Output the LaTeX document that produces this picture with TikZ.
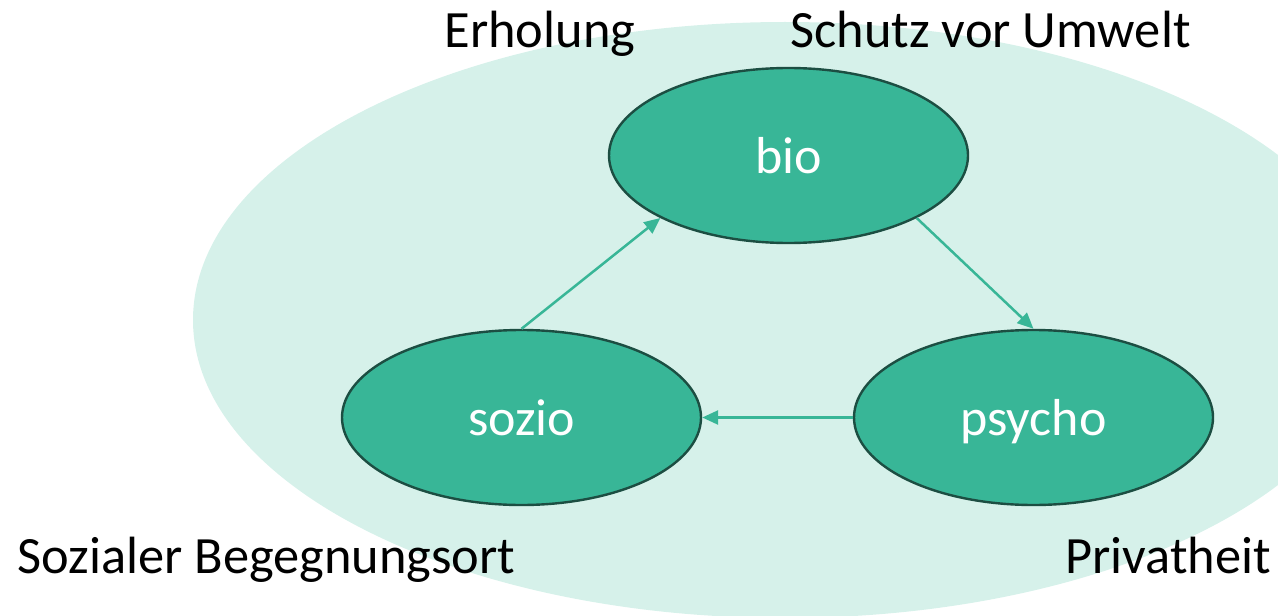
\documentclass[tikz,border=0pt]{standalone}
\usepackage{fontspec}
\setmainfont{Carlito}
\usetikzlibrary{shapes.geometric,arrows.meta}
\definecolor{darkfill}{RGB}{56,182,151}
\definecolor{lightfill}{RGB}{214,241,234}
\definecolor{rimcol}{RGB}{28,78,66}
\tikzset{
  blob/.style={ellipse, draw=rimcol, line width=1.2pt, fill=darkfill, text=white,
    minimum width=179.5pt, minimum height=87.5pt, inner sep=0pt,
    text height=20pt, text depth=2.5pt, font=\fontsize{26}{30}\selectfont},
  lbl/.style={anchor=base, inner sep=0pt, text=black, font=\fontsize{26.2}{30}\selectfont},
  link/.style={draw=darkfill, line width=1.25pt, -{Triangle[length=8pt,width=7pt]}}
}
\begin{document}
\begin{tikzpicture}[x=0.5pt,y=-0.5pt]
\useasboundingbox (0,0) rectangle (1278,615);
\begin{scope}
\clip (0,0) rectangle (1278,615);
\fill[lightfill] (785,320) ellipse [x radius=592, y radius=298];
\end{scope}
\node[blob] (bio) at (788.5,155.5) {bio};
\node[blob] (sozio) at (521.5,417.5) {sozio};
\node[blob] (psycho) at (1033.5,417.5) {psycho};
\draw[link] (sozio.north) -- (bio.206);
\draw[link] (bio.334) -- (psycho.north);
\draw[link] (psycho.west) -- (sozio.east);
\node[lbl] (erh) at (540,48) {Erholung};
\node[lbl] (schutz) at (990.5,48) {Schutz vor Umwelt};
\node[lbl] (sozial) at (266.5,573) {Sozialer Begegnungsort};
\node[lbl] (priv) at (1168,573) {Privatheit};
\end{tikzpicture}
\end{document}
